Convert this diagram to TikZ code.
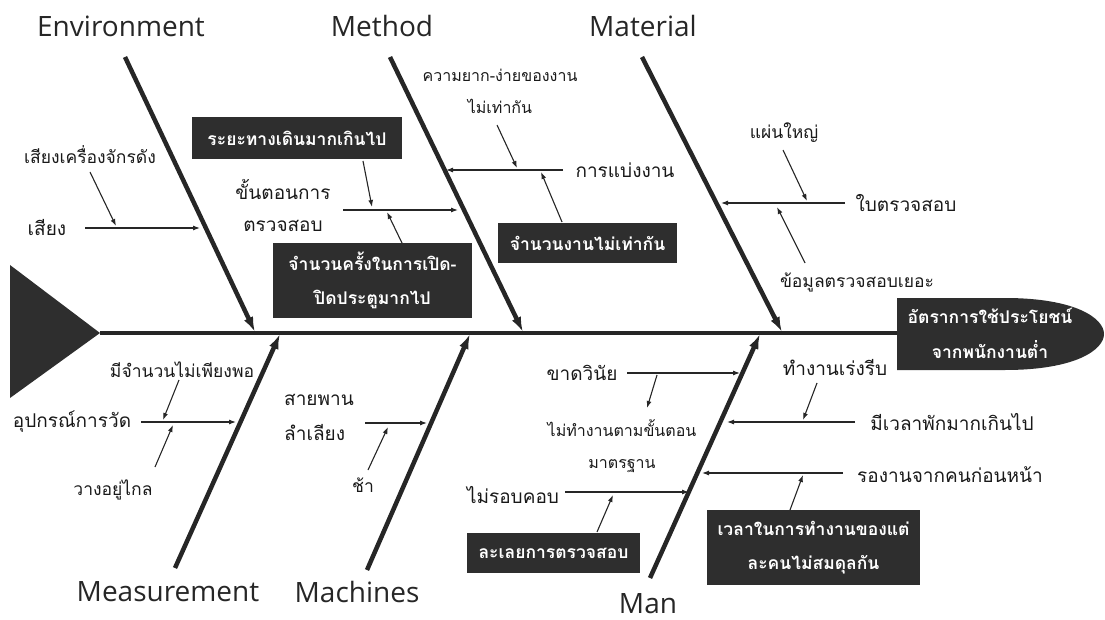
\documentclass[tikz,border=0pt]{standalone}
\usepackage{fontspec}
\setmainfont{Open Sans}
\newfontfamily\thai[Script=Thai]{Loma}
\usetikzlibrary{arrows.meta}
\begin{document}
\begin{tikzpicture}[x=1pt,y=-1pt,
  ink/.style={black!85},
  bone/.style={ink,line width=4.5pt,-{Latex[length=15pt,width=10pt]}},
  spine/.style={ink,line width=4.5pt},
  sub/.style={ink,line width=1.1pt,-{Latex[length=7pt,width=5pt]}},
  cat/.style={text=black!85,font=\fontsize{28}{32}\selectfont,inner sep=0pt},
  th/.style={text=black!90,font=\thai\fontsize{19}{32}\selectfont,inner sep=0pt,align=center},
  thb/.style={th,font=\thai\fontsize{17.5}{32}\selectfont},
  thc/.style={th,font=\thai\fontsize{16}{32}\selectfont},
  dbox/.style={fill=black!82,text=white,font=\thai\bfseries\fontsize{17.5}{34}\selectfont,align=center,inner sep=0pt},
]
\useasboundingbox (0,0) rectangle (1105,620);

% head and tail
\fill[black!82] (10,265) -- (100,333) -- (10,398) -- cycle;
\node[fill=black!82,inner sep=0pt,minimum width=1pt] (tail) at (100,333) {};
\path[fill=black!82] (897,298) -- (1005,298) .. controls (1075,298) and (1104,318) .. (1104,334)
   .. controls (1104,350) and (1075,370) .. (1005,370) -- (897,370) -- cycle;
\node[text=white,font=\thai\bfseries\fontsize{17.5}{35}\selectfont,align=center,inner sep=0pt] (head) at (990,333)
   {อัตราการใช้ประโยชน์\\จากพนักงานต่ำ};
\coordinate (headL) at (897,333);
\draw[spine] (tail.center) -- (headL);

% category labels
\node[cat] (cEnv) at (121,26) {Environment};
\node[cat] (cMet) at (382,26) {Method};
\node[cat] (cMat) at (643,26) {Material};
\node[cat] (cMea) at (168,592) {Measurement};
\node[cat] (cMac) at (357,592) {Machines};
\node[cat] (cMan) at (648,604) {Man};

% bones
\coordinate (envS) at (125,57);  \coordinate (envE) at (255,332);
\coordinate (metS) at (390,57);  \coordinate (metE) at (523,332);
\coordinate (matS) at (642,57);  \coordinate (matE) at (782,332);
\coordinate (meaS) at (175,568); \coordinate (meaE) at (280,334);
\coordinate (macS) at (367,570); \coordinate (macE) at (470,334);
\coordinate (manS) at (650,578); \coordinate (manE) at (760,334);
\draw[bone] (envS) -- (envE);
\draw[bone] (metS) -- (metE);
\draw[bone] (matS) -- (matE);
\draw[bone] (meaS) -- (meaE);
\draw[bone] (macS) -- (macE);
\draw[bone] (manS) -- (manE);

% ---------- Environment
\node[thb] (tNoiseM) at (90,155) {เสียงเครื่องจักรดัง};
\node[th] (tNoise) at (47,228) {เสียง};
\coordinate (e1a) at (85,228);  \coordinate (e1b) at (200,228);
\coordinate (e2a) at (90,172);  \coordinate (e2b) at (116,226);
\draw[sub] (e1a) -- (e1b);
\draw[sub] (e2a) -- (e2b);

% ---------- Method
\node[dbox,minimum width=210pt,minimum height=42pt] (bWalk) at (297,138) {ระยะทางเดินมากเกินไป};
\node[th] (tStep) at (283,205) {ขั้นตอนการ\\ตรวจสอบ};
\node[dbox,minimum width=199pt,minimum height=75pt] (bDoor) at (372.5,280.5) {จำนวนครั้งในการเปิด-\\ปิดประตูมากไป};
\node[thc] (tHard) at (500,91) {ความยาก-ง่ายของงาน\\ไม่เท่ากัน};
\node[th] (tSplit) at (625,170) {การแบ่งงาน};
\node[dbox,minimum width=179pt,minimum height=40pt] (bWork) at (587.5,243) {จำนวนงานไม่เท่ากัน};
\coordinate (m1a) at (343,210); \coordinate (m1b) at (458,210);
\coordinate (m2a) at (363,161); \coordinate (m2b) at (372,207);
\coordinate (m3a) at (402,243); \coordinate (m3b) at (387,212);
\coordinate (m4a) at (563,170); \coordinate (m4b) at (446,170);
\coordinate (m5a) at (497,125); \coordinate (m5b) at (517,168);
\coordinate (m6a) at (562,222); \coordinate (m6b) at (541,172);
\draw[sub] (m1a) -- (m1b);
\draw[sub] (m2a) -- (m2b);
\draw[sub] (m3a) -- (m3b);
\draw[sub] (m4a) -- (m4b);
\draw[sub] (m5a) -- (m5b);
\draw[sub] (m6a) -- (m6b);

% ---------- Material
\node[thb] (tBig) at (784,133) {แผ่นใหญ่};
\node[th] (tSheet) at (906,203) {ใบตรวจสอบ};
\node[thb] (tData) at (857,282) {ข้อมูลตรวจสอบเยอะ};
\coordinate (t1a) at (845,203); \coordinate (t1b) at (721,203);
\coordinate (t2a) at (783,150); \coordinate (t2b) at (807,201);
\coordinate (t3a) at (805,263); \coordinate (t3b) at (777,207);
\draw[sub] (t1a) -- (t1b);
\draw[sub] (t2a) -- (t2b);
\draw[sub] (t3a) -- (t3b);

% ---------- Measurement
\node[th] (tTool) at (72,422) {อุปกรณ์การวัด};
\node[thb] (tFew) at (182,370) {มีจำนวนไม่เพียงพอ};
\node[thb] (tFar) at (113,490) {วางอยู่ไกล};
\coordinate (s1a) at (141,422); \coordinate (s1b) at (236,422);
\coordinate (s2a) at (179,380); \coordinate (s2b) at (163,420);
\coordinate (s3a) at (155,467); \coordinate (s3b) at (173,425);
\draw[sub] (s1a) -- (s1b);
\draw[sub] (s2a) -- (s2b);
\draw[sub] (s3a) -- (s3b);

% ---------- Machines
\node[th,align=left,anchor=west,font=\thai\fontsize{19}{35}\selectfont] (tBelt) at (284,417.5) {สายพาน\\ลำเลียง};
\node[thb] (tSlow) at (363,485) {ช้า};
\coordinate (c1a) at (365,423); \coordinate (c1b) at (427,423);
\coordinate (c2a) at (368,470); \coordinate (c2b) at (388,427);
\draw[sub] (c1a) -- (c1b);
\draw[sub] (c2a) -- (c2b);

% ---------- Man
\node[th] (tDisc) at (582,373) {ขาดวินัย};
\node[thc] (tStd) at (622,446) {ไม่ทำงานตามขั้นตอน\\มาตรฐาน};
\node[th] (tCare) at (513,495) {ไม่รอบคอบ};
\node[dbox,minimum width=173pt,minimum height=40pt] (bSkip) at (553.5,553) {ละเลยการตรวจสอบ};
\node[th] (tRush) at (835,368) {ทำงานเร่งรีบ};
\node[th] (tRest) at (952,422) {มีเวลาพักมากเกินไป};
\node[th] (tWait) at (950,475) {รองานจากคนก่อนหน้า};
\node[dbox,minimum width=213pt,minimum height=75pt] (bBal) at (813.5,547.5) {เวลาในการทำงานของแต่\\ละคนไม่สมดุลกัน};
\coordinate (n1a) at (627,373); \coordinate (n1b) at (740,373);
\coordinate (n2a) at (657,375); \coordinate (n2b) at (647,408);
\coordinate (n3a) at (565,492); \coordinate (n3b) at (689,492);
\coordinate (n4a) at (597,532); \coordinate (n4b) at (613,495);
\coordinate (n5a) at (855,422); \coordinate (n5b) at (727,422);
\coordinate (n6a) at (817,383); \coordinate (n6b) at (803,420);
\coordinate (n7a) at (843,473); \coordinate (n7b) at (702,473);
\coordinate (n8a) at (790,510); \coordinate (n8b) at (803,475);
\draw[sub] (n1a) -- (n1b);
\draw[sub] (n2a) -- (n2b);
\draw[sub] (n3a) -- (n3b);
\draw[sub] (n4a) -- (n4b);
\draw[sub] (n5a) -- (n5b);
\draw[sub] (n6a) -- (n6b);
\draw[sub] (n7a) -- (n7b);
\draw[sub] (n8a) -- (n8b);
\end{tikzpicture}
\end{document}
